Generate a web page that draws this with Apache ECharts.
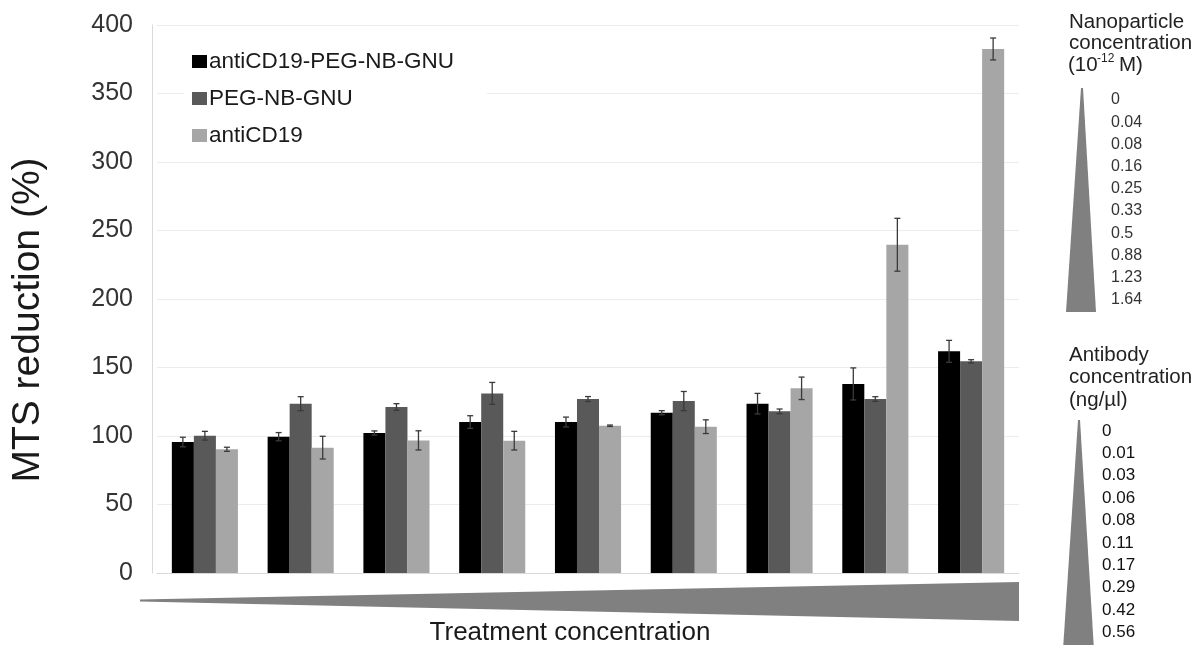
<!DOCTYPE html>
<html>
<head>
<meta charset="utf-8">
<script src="https://cdn.jsdelivr.net/npm/echarts@6/dist/echarts.min.js"></script>
<style>
html,body{margin:0;padding:0;background:#fff;}
#c{width:1195px;height:645px;}
</style>
</head>
<body>
<div id="c"></div>
<script>
const categories = ['T1','T2','T3','T4','T5','T6','T7','T8','T9'];
const seriesNames = ['antiCD19-PEG-NB-GNU','PEG-NB-GNU','antiCD19'];
const antiCD19PegNbGnu = [95.6, 99.5, 102.2, 110.2, 110.2, 117, 123.6, 138, 161.8];
const antiCD19PegNbGnuErr = [3.5, 3, 1.5, 4.6, 3.6, 1.5, 7.5, 11.7, 8];
const pegNbGnu = [100.2, 123.6, 121.2, 131.1, 127, 125.5, 118, 127, 154.5];
const pegNbGnuErr = [3.2, 5.1, 2.4, 8, 1.8, 7, 1.7, 1.7, 1.2];
const antiCD19 = [90.3, 91.5, 96.8, 96.6, 107.5, 106.8, 134.8, 239.6, 382.5];
const antiCD19Err = [1.5, 8.3, 7, 6.8, 0.5, 5, 8.2, 19.3, 8];
const yTicks = [0, 50, 100, 150, 200, 250, 300, 350, 400];
const nanoLabels = ['0','0.04','0.08','0.16','0.25','0.33','0.5','0.88','1.23','1.64'];
const antibodyLabels = ['0','0.01','0.03','0.06','0.08','0.11','0.17','0.29','0.42','0.56'];

const colors = ['#000000', '#595959', '#a6a6a6'];
const values = [antiCD19PegNbGnu, pegNbGnu, antiCD19];
const errs = [antiCD19PegNbGnuErr, pegNbGnuErr, antiCD19Err];
const CAT_GAP = 0.31;
const FONT = 'Liberation Sans, Arial, sans-serif';

function errorSeries(s) {
  return {
    type: 'custom',
    name: seriesNames[s] + ' error',
    z: 10,
    silent: true,
    data: categories.map((c, i) => [i, values[s][i], errs[s][i]]),
    renderItem: function (params, api) {
      const i = api.value(0), v = api.value(1), e = api.value(2);
      const cw = api.size([1, 0])[0];
      const bw = cw * (1 - CAT_GAP) / 3;
      const top = api.coord([i, v + e]);
      const bot = api.coord([i, v - e]);
      const x = top[0] + (s - 1) * bw;
      const cap = 3;
      const st = { stroke: '#3a3a3a', lineWidth: 1.3 };
      return {
        type: 'group',
        children: [
          { type: 'line', shape: { x1: x, y1: top[1], x2: x, y2: bot[1] }, style: st },
          { type: 'line', shape: { x1: x - cap, y1: top[1], x2: x + cap, y2: top[1] }, style: st },
          { type: 'line', shape: { x1: x - cap, y1: bot[1], x2: x + cap, y2: bot[1] }, style: st }
        ]
      };
    }
  };
}

const graphics = [];
// y axis title
graphics.push({
  type: 'text', x: 28, y: 320, rotation: Math.PI / 2,
  style: { text: 'MTS reduction (%)', font: '39px ' + FONT, fill: '#1a1a1a', align: 'center', verticalAlign: 'middle' }
});
// bottom treatment wedge
graphics.push({
  type: 'polygon', shape: { points: [[140, 599.5], [140, 601.5], [1019, 621], [1019, 582]] },
  style: { fill: '#808080' }
});
graphics.push({
  type: 'text', x: 570, y: 633,
  style: { text: 'Treatment concentration', font: '26px ' + FONT, fill: '#1a1a1a', align: 'center', verticalAlign: 'middle' }
});
// nanoparticle legend
['Nanoparticle', 'concentration'].forEach((t, k) => {
  graphics.push({ type: 'text', x: 1069, y: 22 + k * 21.5,
    style: { text: t, font: '20.5px ' + FONT, fill: '#222', align: 'left', verticalAlign: 'middle' } });
});
graphics.push({ type: 'text', x: 1068, y: 65,
  style: { text: '(10', font: '20.5px ' + FONT, fill: '#222', align: 'left', verticalAlign: 'middle' } });
graphics.push({ type: 'text', x: 1097, y: 59,
  style: { text: '-12', font: '12px ' + FONT, fill: '#222', align: 'left', verticalAlign: 'middle' } });
graphics.push({ type: 'text', x: 1119, y: 65,
  style: { text: 'M)', font: '20.5px ' + FONT, fill: '#222', align: 'left', verticalAlign: 'middle' } });
graphics.push({ type: 'polygon', shape: { points: [[1081, 88], [1083, 88], [1096, 312], [1066, 312]] }, style: { fill: '#808080' } });
nanoLabels.forEach((t, k) => {
  graphics.push({ type: 'text', x: 1111, y: 100 + k * 22.2,
    style: { text: t, font: '16px ' + FONT, fill: '#333', align: 'left', verticalAlign: 'middle' } });
});
// antibody legend
['Antibody', 'concentration', '(ng/µl)'].forEach((t, k) => {
  graphics.push({ type: 'text', x: 1069, y: 355 + k * 22.5,
    style: { text: t, font: '20.5px ' + FONT, fill: '#222', align: 'left', verticalAlign: 'middle' } });
});
graphics.push({ type: 'polygon', shape: { points: [[1078, 420], [1080, 420], [1094, 650], [1063, 650]] }, style: { fill: '#808080' } });
antibodyLabels.forEach((t, k) => {
  graphics.push({ type: 'text', x: 1102, y: 431 + k * 22.4,
    style: { text: t, font: '17px ' + FONT, fill: '#111', align: 'left', verticalAlign: 'middle' } });
});

const option = {
  animation: false,
  backgroundColor: '#ffffff',
  textStyle: { fontFamily: FONT },
  grid: { left: 157, right: 176, top: 25, bottom: 72, containLabel: false },
  legend: {
    data: seriesNames,
    orient: 'vertical',
    left: 184, top: 42,
    icon: 'rect',
    itemWidth: 15, itemHeight: 13,
    itemGap: 14,
    backgroundColor: '#ffffff',
    padding: [8, 33, 8, 8],
    textStyle: { fontSize: 22.5, color: '#1a1a1a', lineHeight: 23, padding: [0, 0, 0, -3] }
  },
  xAxis: {
    type: 'category',
    data: categories,
    axisLine: { show: true, lineStyle: { color: '#d9d9d9', width: 1 } },
    axisTick: { show: false },
    axisLabel: { show: false }
  },
  yAxis: {
    type: 'value',
    min: 0, max: 400, interval: 50,
    offset: 5,
    axisLine: { show: true, lineStyle: { color: '#d9d9d9', width: 1 } },
    axisTick: { show: false },
    axisLabel: {
      fontSize: 25, color: '#333', margin: 19,
      formatter: v => yTicks.includes(v) ? String(v) : ''
    },
    splitLine: { lineStyle: { color: '#ececec', width: 1 } }
  },
  series: [
    ...seriesNames.map((n, s) => ({
      type: 'bar', name: n, data: values[s],
      barCategoryGap: (CAT_GAP * 100) + '%', barGap: '0%',
      itemStyle: { color: colors[s] }
    })),
    errorSeries(0), errorSeries(1), errorSeries(2)
  ],
  graphic: graphics
};

const chart = echarts.init(document.getElementById('c'), null, { renderer: 'canvas' });
chart.setOption(option);
</script>
</body>
</html>
